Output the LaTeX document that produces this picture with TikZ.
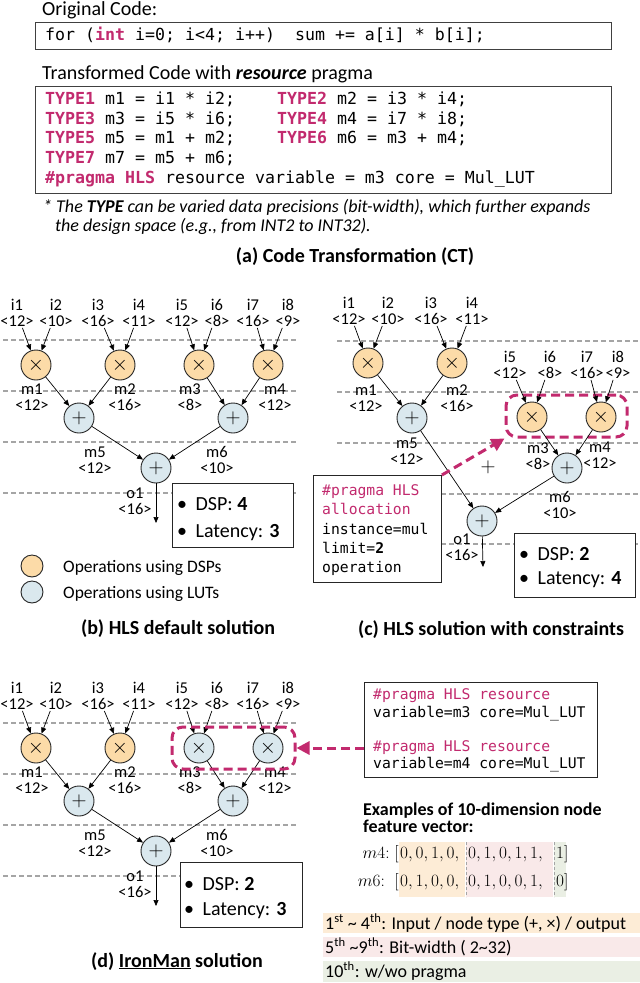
\documentclass[tikz,border=0pt]{standalone}
\usepackage{fontspec}
\setmainfont{Carlito}
\setmonofont{DejaVu Sans Mono}
\usetikzlibrary{arrows.meta,calc}
\definecolor{mag}{RGB}{194,42,110}
\definecolor{dspfill}{RGB}{252,219,168}
\definecolor{lutfill}{RGB}{218,232,238}
\definecolor{lvgray}{RGB}{165,165,165}
\definecolor{bgor}{RGB}{253,236,214}
\definecolor{bgpk}{RGB}{249,233,233}
\definecolor{bggr}{RGB}{234,239,228}
\newcommand{\mg}[1]{\textcolor{mag}{#1}}
\newcommand{\mgb}[1]{\textcolor{mag}{\bfseries #1}}
\newcommand{\fcode}{\fontsize{16.6}{20}\selectfont\ttfamily}
\newcommand{\fsc}{\fontsize{14.7}{18}\selectfont\ttfamily}
\newcommand{\fbig}{\fontsize{20}{24}\selectfont}
\newcommand{\fmid}{\fontsize{18}{20}\selectfont}
\newcommand{\drawtree}[3]{%
\begin{scope}[shift={(0,#2)}]
\foreach \yy in {-25,26,77,128}{\draw[lvline] (3,\yy) -- (298,\yy);}
\node[lbl] (#1i1) at (17,-52) {i1\\<12>};
\node[lbl] (#1i2) at (56,-52) {i2\\<10>};
\node[lbl] (#1i3) at (98,-52) {i3\\<16>};
\node[lbl] (#1i4) at (139,-52) {i4\\<11>};
\node[lbl] (#1i5) at (182,-52) {i5\\<12>};
\node[lbl] (#1i6) at (217,-52) {i6\\<8>};
\node[lbl] (#1i7) at (253,-52) {i7\\<16>};
\node[lbl] (#1i8) at (288,-52) {i8\\<9>};
\node[opdsp] (#1m1) at (36,0) {$\times$};
\node[opdsp] (#1m2) at (120,0) {$\times$};
\node[#3] (#1m3) at (199,0) {$\times$};
\node[#3] (#1m4) at (268,0) {$\times$};
\node[lbl] (#1t1) at (32,32) {m1\\<12>};
\node[lbl] (#1t2) at (125,32) {m2\\<16>};
\node[lbl] (#1t3) at (190,32) {m3\\<8>};
\node[lbl] (#1t4) at (275,32) {m4\\<12>};
\node[oplut] (#1m5) at (79,53) {$+$};
\node[oplut] (#1m6) at (233,53) {$+$};
\node[lbl] (#1t5) at (95,95) {m5\\<12>};
\node[lbl] (#1t6) at (217,95) {m6\\<10>};
\node[oplut] (#1o1) at (156,103) {$+$};
\node[lbl] (#1t7) at (135,136) {o1\\<16>};
\coordinate (#1out) at (156,158);
\draw[arr] (#1i1) -- (#1m1);
\draw[arr] (#1i2) -- (#1m1);
\draw[arr] (#1i3) -- (#1m2);
\draw[arr] (#1i4) -- (#1m2);
\draw[arr] (#1i5) -- (#1m3);
\draw[arr] (#1i6) -- (#1m3);
\draw[arr] (#1i7) -- (#1m4);
\draw[arr] (#1i8) -- (#1m4);
\draw[arr] (#1m1) -- (#1m5);
\draw[arr] (#1m2) -- (#1m5);
\draw[arr] (#1m3) -- (#1m6);
\draw[arr] (#1m4) -- (#1m6);
\draw[arr] (#1m5) -- (#1o1);
\draw[arr] (#1m6) -- (#1o1);
\draw[arr] (#1o1) -- (#1out);
\end{scope}}
\begin{document}
\begin{tikzpicture}[x=1pt,y=-1pt,
  opbase/.style={circle, draw=black!85, line width=0.9pt, minimum size=30pt, inner sep=0pt, font=\fbig},
  opdsp/.style={opbase, fill=dspfill},
  oplut/.style={opbase, fill=lutfill},
  lbl/.style={align=center, inner sep=1pt, font=\fontsize{16.5}{16}\selectfont},
  arr/.style={-{Triangle[length=6pt,width=5pt]}, line width=0.7pt},
  lvline/.style={draw=lvgray, line width=1.1pt, dash pattern=on 5pt off 3pt},
  magdash/.style={draw=mag, line width=3pt, dash pattern=on 9pt off 5pt},
  magbox/.style={magdash, rounded corners=11pt, inner sep=0pt},
  infobox/.style={draw=black!85, fill=white, line width=0.9pt, inner sep=0pt},
  codebox/.style={draw=black!75, line width=1.3pt, inner sep=0pt},
  txt/.style={inner sep=0pt, anchor=base west},
  ttl/.style={inner sep=0pt, anchor=base, font=\fbig\bfseries}]
\useasboundingbox (0,0) rectangle (640,983);
\fill[white] (0,0) rectangle (640,983);
% ---------- (a) ----------
\node[txt, font=\fbig] (ocl) at (42,15) {Original Code:};
\node[codebox, minimum width=576pt, minimum height=27pt, anchor=north west] (box1) at (35,22) {};
\node[txt, font=\fcode] (ocode) at (45,40) {for (\mgb{int} i=0; i<4; i++)\ \ sum += a[i] * b[i];};
\node[txt, font=\fbig] (tcl) at (42,79) {Transformed Code with \textbf{\textit{resource}} pragma};
\node[codebox, minimum width=576pt, minimum height=107pt, anchor=north west] (box2) at (35,86) {};
\node[txt, font=\fcode] (r1a) at (45,104) {\mgb{TYPE1} m1 = i1 * i2;};
\node[txt, font=\fcode] (r1b) at (277,104) {\mgb{TYPE2} m2 = i3 * i4;};
\node[txt, font=\fcode] (r2a) at (45,124) {\mgb{TYPE3} m3 = i5 * i6;};
\node[txt, font=\fcode] (r2b) at (277,124) {\mgb{TYPE4} m4 = i7 * i8;};
\node[txt, font=\fcode] (r3a) at (45,143.5) {\mgb{TYPE5} m5 = m1 + m2;};
\node[txt, font=\fcode] (r3b) at (277,143.5) {\mgb{TYPE6} m6 = m3 + m4;};
\node[txt, font=\fcode] (r4a) at (45,163) {\mgb{TYPE7} m7 = m5 + m6;};
\node[txt, font=\fcode] (r5a) at (45,183) {\mgb{\#pragma HLS} resource variable = m3 core = Mul\_LUT};
\node[txt, font=\fmid\itshape] (fn1) at (43,212) {* The \textbf{TYPE} can be varied data precisions (bit-width), which further expands};
\node[txt, font=\fmid\itshape] (fn2) at (55,231) {the design space (e.g., from INT2 to INT32).};
\node[ttl] (ta) at (355,262) {(a) Code Transformation (CT)};
% ---------- (b) ----------
\drawtree{b}{365}{opdsp}
\node[infobox, minimum width=121pt, minimum height=64pt, anchor=north west] (bbox) at (172,483) {};
\node[txt, font=\fbig] (bb1) at (177,510) {•\hspace{8.5pt}DSP: \textbf{4}};
\node[txt, font=\fbig] (bb2) at (177,537) {•\hspace{8.5pt}Latency: \textbf{3}};
\node[opdsp, minimum size=22pt] (lgd) at (32,566) {};
\node[oplut, minimum size=22pt] (lgl) at (32,592) {};
\node[txt, font=\fontsize{17.5}{20}\selectfont] (lgdt) at (63,572) {Operations using DSPs};
\node[txt, font=\fontsize{17.5}{20}\selectfont] (lglt) at (63,598) {Operations using LUTs};
\node[ttl] (tb) at (178,634) {(b) HLS default solution};
% ---------- (c) ----------
\foreach \yy in {341,392,443,494,544}{\draw[lvline] (337,\yy) -- (640,\yy);}
\node[lbl] (ci1) at (349,311) {i1\\<12>};
\node[lbl] (ci2) at (388,311) {i2\\<10>};
\node[lbl] (ci3) at (431,311) {i3\\<16>};
\node[lbl] (ci4) at (472,311) {i4\\<11>};
\node[opdsp] (cm1) at (368,363) {$\times$};
\node[opdsp] (cm2) at (452,363) {$\times$};
\node[lbl] (ct1) at (366,398) {m1\\<12>};
\node[lbl] (ct2) at (457,398) {m2\\<16>};
\node[oplut] (cm5) at (412,418) {$+$};
\node[lbl] (ci5) at (510,365) {i5\\<12>};
\node[lbl] (ci6) at (550,365) {i6\\<8>};
\node[lbl] (ci7) at (587,365) {i7\\<16>};
\node[lbl] (ci8) at (618,365) {i8\\<9>};
\node[opdsp] (cm3) at (532,417) {$\times$};
\node[opdsp] (cm4) at (601,417) {$\times$};
\node[magbox, minimum width=121pt, minimum height=42pt] (crect) at (566.5,416) {};
\node[lbl] (ct3) at (538,456) {m3\\<8>};
\node[lbl] (ct4) at (600,455) {m4\\<12>};
\node[oplut] (cm6) at (567,468) {$+$};
\node[lbl] (ct5) at (407,451) {m5\\<12>};
\node[inner sep=0pt, font=\fbig] (cplus) at (488,467) {$+$};
\node[lbl] (ct6) at (560,505) {m6\\<10>};
\node[oplut] (co1) at (482,521) {$+$};
\node[lbl] (ct7) at (462,547) {o1\\<16>};
\coordinate (cout) at (483,567);
\draw[arr] (ci1) -- (cm1);
\draw[arr] (ci2) -- (cm1);
\draw[arr] (ci3) -- (cm2);
\draw[arr] (ci4) -- (cm2);
\draw[arr] (ci5) -- (cm3);
\draw[arr] (ci6) -- (cm3);
\draw[arr] (ci7) -- (cm4);
\draw[arr] (ci8) -- (cm4);
\draw[arr] (cm1) -- (cm5);
\draw[arr] (cm2) -- (cm5);
\draw[arr] (cm3) -- (cm6);
\draw[arr] (cm4) -- (cm6);
\draw[arr] (cm5) -- (co1);
\draw[arr] (cm6) -- (co1);
\draw[arr] (co1) -- (cout);
\node[infobox, minimum width=128pt, minimum height=107pt, anchor=north west] (alloc) at (313,475) {};
\node[txt, font=\fsc] (al1) at (322,495) {\mg{\#pragma HLS}};
\node[txt, font=\fsc] (al2) at (322,514) {\mg{allocation}};
\node[txt, font=\fsc] (al3) at (322,534) {instance=mul};
\node[txt, font=\fsc] (al4) at (322,553) {limit=\textbf{2}};
\node[txt, font=\fsc] (al5) at (322,572) {operation};
\draw[magdash, -{Triangle[length=13pt,width=13pt]}] (alloc.north east) -- (crect.south west);
\node[infobox, minimum width=121pt, minimum height=64pt, anchor=north west] (cbox) at (514,533) {};
\node[txt, font=\fbig] (cb1) at (519,560) {•\hspace{8.5pt}DSP: \textbf{2}};
\node[txt, font=\fbig] (cb2) at (519,584) {•\hspace{8.5pt}Latency: \textbf{4}};
\node[ttl] (tc) at (491,635) {(c) HLS solution with constraints};
% ---------- (d) ----------
\drawtree{d}{748}{oplut}
\node[magbox, minimum width=123pt, minimum height=42pt] (drect) at (233.5,748) {};
\node[infobox, minimum width=122pt, minimum height=65pt, anchor=north west] (dbox) at (180,862) {};
\node[txt, font=\fbig] (db1) at (184,890) {•\hspace{8.5pt}DSP: \textbf{2}};
\node[txt, font=\fbig] (db2) at (184,915) {•\hspace{8.5pt}Latency: \textbf{3}};
\node[ttl] (td) at (177,967) {(d) \underline{IronMan} solution};
\node[infobox, minimum width=233pt, minimum height=95pt, anchor=north west] (dprag) at (364,682) {};
\node[txt, font=\fsc] (dp1) at (373,699) {\mg{\#pragma HLS resource}};
\node[txt, font=\fsc] (dp2) at (373,717) {variable=m3 core=Mul\_LUT};
\node[txt, font=\fsc] (dp3) at (373,751) {\mg{\#pragma HLS resource}};
\node[txt, font=\fsc] (dp4) at (373,768) {variable=m4 core=Mul\_LUT};
\draw[magdash, -{Triangle[length=13pt,width=13pt]}] (dprag.west |- drect.east) -- (drect.east);
% ---------- feature vectors ----------
\node[txt, font=\fmid\bfseries] (ex1) at (363,815) {Examples of 10-dimension node};
\node[txt, font=\fmid\bfseries] (ex2) at (363,832) {feature vector:};
\fill[bgor] (399,842) rectangle (465,897);
\fill[bgpk] (466,842) rectangle (553,897);
\fill[bggr] (554,842) rectangle (566,897);
\draw[lvgray, line width=1pt, dash pattern=on 3pt off 2pt] (466,842) -- (466,897);
\draw[lvgray, line width=1pt, dash pattern=on 3pt off 2pt] (554,842) -- (554,897);
\node[txt, anchor=base east, font=\fmid] (v4l) at (399,858) {$m4\mathrm{:}\;[$};
\node[txt, font=\fmid] (v4a) at (400,858) {$0, 0, 1, 0,$};
\node[txt, font=\fmid] (v4b) at (468,858) {$0, 1, 0, 1, 1,$};
\node[txt, font=\fmid] (v4c) at (556,858) {$1]$};
\node[txt, anchor=base east, font=\fmid] (v6l) at (399,886) {$m6\mathrm{:}\;\;[$};
\node[txt, font=\fmid] (v6a) at (400,886) {$0, 1, 0, 0,$};
\node[txt, font=\fmid] (v6b) at (468,886) {$0, 1, 0, 0, 1,$};
\node[txt, font=\fmid] (v6c) at (556,886) {$0]$};
\fill[bgor] (323,913) rectangle (640,933);
\fill[bgpk] (323,937) rectangle (640,957);
\fill[bggr] (323,961) rectangle (640,982);
\node[txt, font=\fmid] (lg1) at (325,929) {1\textsuperscript{st} \textasciitilde{} 4\textsuperscript{th}: Input / node type (+, ×) / output};
\node[txt, font=\fmid] (lg2) at (325,953) {5\textsuperscript{th} \textasciitilde9\textsuperscript{th}: Bit-width ( 2\textasciitilde32)};
\node[txt, font=\fmid] (lg3) at (325,977) {10\textsuperscript{th}: w/wo pragma};
\end{tikzpicture}
\end{document}
